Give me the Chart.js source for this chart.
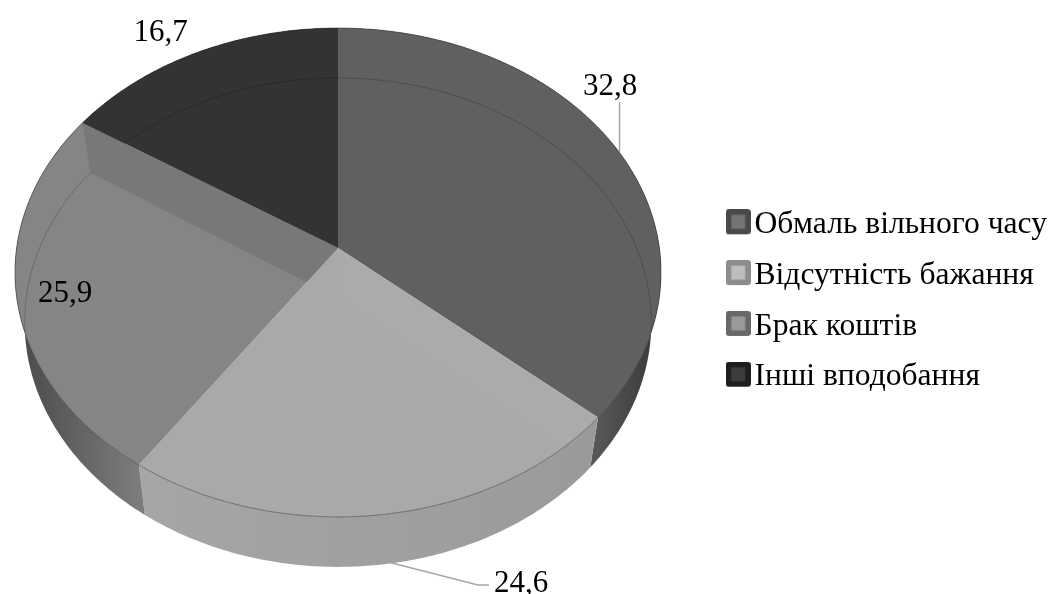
<!DOCTYPE html>
<html>
<head>
<meta charset="utf-8">
<title>Причини</title>
<script src="https://cdn.jsdelivr.net/npm/chart.js@4/dist/chart.umd.js"></script>
<style>
    html, body { margin: 0; padding: 0; background: #ffffff; }
    #wrap { width: 1052px; height: 594px; position: relative; }
</style>
</head>
<body>
<div id="wrap"><canvas id="pieChart" width="1052" height="594"></canvas></div>
<script>
const categories = ['Обмаль вільного часу', 'Відсутність бажання', 'Брак коштів', 'Інші вподобання'];
const shares = [32.8, 24.6, 25.9, 16.7];

// ==============================================================================
// STYLES
// ==============================================================================

const faceColors = ['#606060', '#a9a9a9', '#858585', '#333333'];
// wall shade from the right end of the visible stretch to its left end
const wallStops = [
    ['#383838', '#565656'],
    ['#9a9a9a', '#a6a6a6'],
    ['#7c7c7c', '#4a4a4a'],
    ['#333333', '#333333']
];
const markerColors = [
    ['#4a4a4a', '#747474'],
    ['#8c8c8c', '#bdbdbd'],
    ['#686868', '#999999'],
    ['#1e1e1e', '#3c3c3c']
];
const labelSpots = [
    { x: 610, y: 95 },
    { x: 521, y: 592 },
    { x: 65, y: 302 },
    { x: 160.5, y: 41 }
];
const FONT = '"Liberation Serif", "Times New Roman", serif';

// ==============================================================================
// TILTED DISC PROJECTION
// ==============================================================================

const disc = { cx: 338, cy: 248, rx: 321.4, ry: 242, tilt: -0.1 };
const lower = { scale: 0.97, drop: 50 };

// the tilted view bunches the sectors unevenly around the rim
function skewAngle(t) {
    const deg = Math.PI / 180;
    return t + deg * (2.29 * Math.sin(t) - 2.59 * Math.sin(2 * t) + 5.87 * (1 - Math.cos(t)));
}

function project(angle, r) {
    const t = skewAngle(angle + Math.PI / 2);
    const u = r * Math.sin(t);
    const v = -r * Math.cos(t);
    const d = 1 + disc.tilt * v;
    return { x: disc.cx + disc.rx * u / d, y: disc.cy + disc.ry * v / d };
}

function sink(p) {
    return { x: disc.cx + lower.scale * (p.x - disc.cx), y: p.y + lower.drop };
}

function rimPoints(start, end) {
    const pts = [];
    const steps = Math.max(2, Math.ceil((end - start) / 0.01));
    for (let i = 0; i <= steps; i++) {
        pts.push(project(start + (end - start) * i / steps, 1));
    }
    return pts;
}

function tracePath(ctx, pts, close) {
    ctx.beginPath();
    pts.forEach((p, i) => i ? ctx.lineTo(p.x, p.y) : ctx.moveTo(p.x, p.y));
    if (close) ctx.closePath();
}

// ==============================================================================
// DRAWING
// ==============================================================================

function drawWalls(ctx, arcs) {
    arcs.forEach((arc, i) => {
        const top = rimPoints(arc.startAngle, arc.endAngle);
        const bottom = top.map(sink).reverse();
        // only the front half of the rim is ever seen
        const from = project(Math.max(arc.startAngle, 0), 1).x;
        const to = project(Math.min(arc.endAngle, Math.PI), 1).x;
        const grad = ctx.createLinearGradient(from, 0, Math.min(from - 1, to), 0);
        grad.addColorStop(0, wallStops[i][0]);
        grad.addColorStop(1, wallStops[i][1]);
        tracePath(ctx, top.concat(bottom), true);
        ctx.fillStyle = grad;
        ctx.fill();
    });
}

function drawFace(ctx, arc, i, allRim) {
    const apex = project(0, 0);
    const rim = rimPoints(arc.startAngle, arc.endAngle);
    const outline = [apex].concat(rim);

    tracePath(ctx, outline, true);
    ctx.fillStyle = faceColors[i];
    ctx.fill();

    ctx.save();
    tracePath(ctx, outline, true);
    ctx.clip();

    // lower ring seen through the top
    tracePath(ctx, allRim.map(sink), true);
    ctx.strokeStyle = 'rgba(0,0,0,0.2)';
    ctx.lineWidth = 1;
    ctx.stroke();

    // cut faces showing through the sector next to them
    const cuts = [
        { pt: rim[0], fill: i === 1 ? 'rgba(255,255,255,0.025)' : null },
        { pt: rim[rim.length - 1], fill: i === 2 ? '#787878' : null }
    ];
    cuts.forEach(cut => {
        if (!cut.fill) return;
        tracePath(ctx, [apex, cut.pt, sink(cut.pt), sink(apex)], true);
        ctx.fillStyle = cut.fill;
        ctx.fill();
    });
    ctx.restore();
}

const tiltedPie = {
    id: 'tiltedPie',
    beforeDatasetDraw(chart) {
        const ctx = chart.ctx;
        const arcs = chart.getDatasetMeta(0).data;
        const allRim = rimPoints(-Math.PI / 2, Math.PI * 1.5);
        ctx.save();
        drawWalls(ctx, arcs);
        arcs.forEach((arc, i) => drawFace(ctx, arc, i, allRim));

        // thin dark edge round the disc
        tracePath(ctx, allRim, true);
        ctx.strokeStyle = 'rgba(40,40,40,0.5)';
        ctx.lineWidth = 1;
        ctx.stroke();
        ctx.restore();
        return false;
    },
    afterDraw(chart) {
        const ctx = chart.ctx;
        ctx.save();

        // leader lines for the two outer labels
        ctx.strokeStyle = '#a6a6a6';
        ctx.lineWidth = 1.5;
        ctx.beginPath();
        ctx.moveTo(619.5, 102);
        ctx.lineTo(619.5, 152);
        ctx.moveTo(388, 562);
        ctx.lineTo(478, 585);
        ctx.lineTo(489, 585);
        ctx.stroke();

        ctx.font = '31px ' + FONT;
        ctx.fillStyle = '#000000';
        ctx.textAlign = 'center';
        ctx.textBaseline = 'alphabetic';
        shares.forEach((value, i) => {
            ctx.fillText(value.toFixed(1).replace('.', ','), labelSpots[i].x, labelSpots[i].y);
        });
        ctx.restore();
    }
};

// ==============================================================================
// LEGEND MARKERS
// ==============================================================================

// the canvas is taller than the square so the square sits a little above the text centre
function makeMarker(colors) {
    const c = document.createElement('canvas');
    c.width = 25;
    c.height = 31;
    const g = c.getContext('2d');
    g.fillStyle = colors[0];
    g.beginPath();
    g.roundRect(0, 0, 25, 25, 3);
    g.fill();
    g.fillStyle = colors[1];
    g.fillRect(5.5, 5.5, 14, 14);
    return c;
}

const markers = markerColors.map(makeMarker);

// ==============================================================================
// CHART
// ==============================================================================

new Chart(document.getElementById('pieChart'), {
    type: 'pie',
    data: {
        labels: categories,
        datasets: [{
            data: shares,
            backgroundColor: faceColors,
            borderWidth: 0
        }]
    },
    options: {
        responsive: false,
        animation: false,
        events: [],
        layout: { padding: { top: 8, right: -5 } },
        plugins: {
            tooltip: { enabled: false },
            legend: {
                position: 'right',
                labels: {
                    usePointStyle: true,
                    pointStyleWidth: 1,
                    padding: 19.2,
                    color: '#000000',
                    font: { family: FONT, size: 31.6 },
                    generateLabels() {
                        return categories.map((text, i) => ({
                            text,
                            index: i,
                            fillStyle: faceColors[i],
                            strokeStyle: faceColors[i],
                            lineWidth: 0,
                            pointStyle: markers[i],
                            hidden: false
                        }));
                    }
                }
            }
        }
    },
    plugins: [tiltedPie]
});
</script>
</body>
</html>
